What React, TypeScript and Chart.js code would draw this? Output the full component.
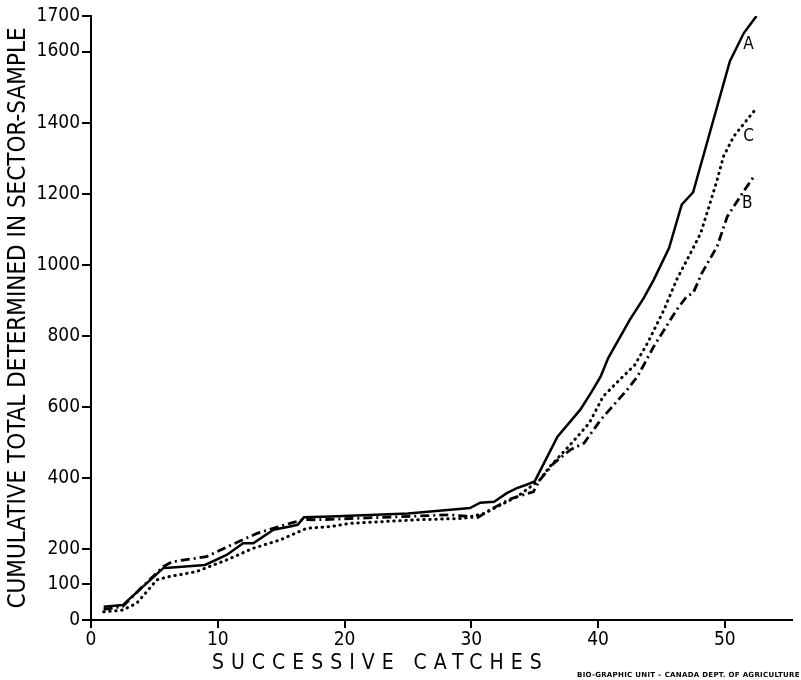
import React, { useEffect, useRef } from 'react';
import { Chart, registerables } from 'chart.js';

Chart.register(...registerables);

// Series A (solid)
const catchesA = [1, 2.5, 4.1, 5.7, 6.4, 9, 10.7, 12, 12.8, 14.4, 15.7, 16.3, 16.8, 18.9, 25, 29.9, 30.7, 31.8, 32.8, 33.6, 34.3, 35.0, 36.8, 38.6, 39.5, 40.2, 40.8, 42.5, 43.6, 44.4, 45.6, 46.6, 47.5, 50.4, 51.5, 52.5];
const totalsA = [37, 42, 94, 146, 148, 155, 183, 216, 216, 254, 263, 268, 289, 291, 300, 315, 330, 333, 357, 371, 380, 390, 516, 592, 643, 685, 737, 845, 906, 958, 1047, 1169, 1204, 1573, 1652, 1700];

// Series B (dash-dot)
const catchesB = [1, 2.5, 4, 5.7, 6.4, 9.1, 11, 13.1, 15.7, 16.8, 17.8, 28.3, 29.6, 30.4, 31.5, 33, 34.9, 35.4, 36.5, 37.8, 38.9, 40.2, 42.3, 43.1, 44.4, 46.2, 47.0, 47.5, 48.2, 49.4, 50.2, 51.4, 52.4];
const totalsB = [30, 38, 92, 150, 164, 178, 210, 244, 272, 283, 282, 296, 292, 286, 310, 340, 361, 394, 441, 479, 498, 563, 648, 685, 770, 873, 911, 920, 977, 1052, 1136, 1202, 1254];

// Series C (dotted)
const catchesC = [1, 2.5, 3.6, 5.2, 6, 8.3, 10.7, 12.8, 14.9, 17.0, 18.9, 20.4, 25.7, 29.4, 31.0, 33.6, 35.4, 36.2, 37.8, 39.3, 40.4, 41.7, 42.9, 43.9, 45.2, 46.2, 47.3, 48.1, 48.6, 49.4, 49.9, 50.7, 52.5];
const totalsC = [23, 28, 47, 113, 121, 136, 169, 202, 225, 258, 263, 272, 282, 286, 300, 347, 394, 432, 493, 554, 629, 676, 718, 779, 873, 958, 1033, 1089, 1146, 1239, 1305, 1361, 1441];

const seriesLabels = ['A', 'B', 'C'];
const yTickValues = [0, 100, 200, 400, 600, 800, 1000, 1200, 1400, 1600, 1700];
const xTickValues = [0, 10, 20, 30, 40, 50];
const xTitle = 'SUCCESSIVE CATCHES';
const yTitle = 'CUMULATIVE TOTAL DETERMINED IN SECTOR-SAMPLE';
const creditText = 'BIO-GRAPHIC UNIT – CANADA DEPT. OF AGRICULTURE';

const FONT = "'DejaVu Sans Condensed', 'Liberation Sans Narrow', 'DejaVu Sans', sans-serif";

const toPoints = (xs: number[], ys: number[]) => xs.map((x, i) => ({ x, y: ys[i] }));

const textPlugin = {
  id: 'textPlugin',
  afterDraw(chart: any) {
    const ctx = chart.ctx as CanvasRenderingContext2D;
    ctx.save();
    ctx.fillStyle = '#000';
    // end labels
    ctx.font = `17px ${FONT}`;
    ctx.textAlign = 'center';
    ctx.textBaseline = 'middle';
    chart.data.datasets.forEach((ds: any, i: number) => {
      const meta = chart.getDatasetMeta(i);
      const last = meta.data[meta.data.length - 1];
      if (last) ctx.fillText(ds.label, last.x - 8, last.y + 29);
    });
    // x title
    ctx.font = `21px ${FONT}`;
    ctx.textAlign = 'left';
    (ctx as any).letterSpacing = '7px';
    ctx.fillText(xTitle, 212, 664);
    // credit
    ctx.font = `bold 7px 'DejaVu Sans', sans-serif`;
    (ctx as any).letterSpacing = '0.3px';
    ctx.fillText(creditText, 577, 675);
    ctx.restore();
  },
};

export default function App() {
  const ref = useRef<HTMLCanvasElement>(null);
  useEffect(() => {
    document.body.style.margin = '0';
    if (!ref.current) return;
    const chart = new Chart(ref.current, {
      type: 'line',
      data: {
        datasets: [
          {
            label: seriesLabels[0],
            data: toPoints(catchesA, totalsA),
            borderColor: '#000',
            borderWidth: 2.5,
            pointRadius: 0,
            tension: 0,
            fill: false,
          },
          {
            label: seriesLabels[1],
            data: toPoints(catchesB, totalsB),
            borderColor: '#000',
            borderWidth: 2.8,
            borderDash: [9, 4, 2, 4],
            pointRadius: 0,
            tension: 0,
            fill: false,
          },
          {
            label: seriesLabels[2],
            data: toPoints(catchesC, totalsC),
            borderColor: '#000',
            borderWidth: 3,
            borderDash: [0.5, 5.5],
            borderCapStyle: 'round',
            pointRadius: 0,
            tension: 0,
            fill: false,
          },
        ],
      },
      options: {
        animation: false,
        responsive: false,
        devicePixelRatio: 1,
        layout: { padding: { top: 16, right: 9, bottom: 0, left: 0 } },
        plugins: { legend: { display: false }, tooltip: { enabled: false }, title: { display: false } },
        scales: {
          x: {
            type: 'linear',
            min: 0,
            max: 55.3,
            afterBuildTicks: (scale: any) => {
              scale.ticks = xTickValues.map((v) => ({ value: v }));
            },
            afterFit: (scale: any) => {
              scale.height = 60;
            },
            grid: { drawOnChartArea: false, drawTicks: true, tickLength: 8, color: '#000', lineWidth: 2 },
            border: { display: true, color: '#000', width: 2 },
            ticks: { color: '#000', font: { family: FONT, size: 19 }, padding: 1, maxRotation: 0, callback: (v: any) => String(v) },
          },
          y: {
            type: 'linear',
            min: 0,
            max: 1700,
            afterBuildTicks: (scale: any) => {
              scale.ticks = yTickValues.map((v) => ({ value: v }));
            },
            afterFit: (scale: any) => {
              scale.width = 91;
            },
            grid: { drawOnChartArea: false, drawTicks: true, tickLength: 9, color: '#000', lineWidth: 2 },
            border: { display: true, color: '#000', width: 2 },
            ticks: { color: '#000', font: { family: FONT, size: 19 }, padding: 2, autoSkip: false, callback: (v: any) => String(v) },
            title: {
              display: true,
              text: yTitle,
              color: '#000',
              font: { family: FONT, size: 24 },
              padding: { top: 4, bottom: 0 },
            },
          },
        },
      },
      plugins: [textPlugin],
    } as any);
    return () => chart.destroy();
  }, []);
  return <canvas ref={ref} width={801} height={680} style={{ display: 'block' }} />;
}
